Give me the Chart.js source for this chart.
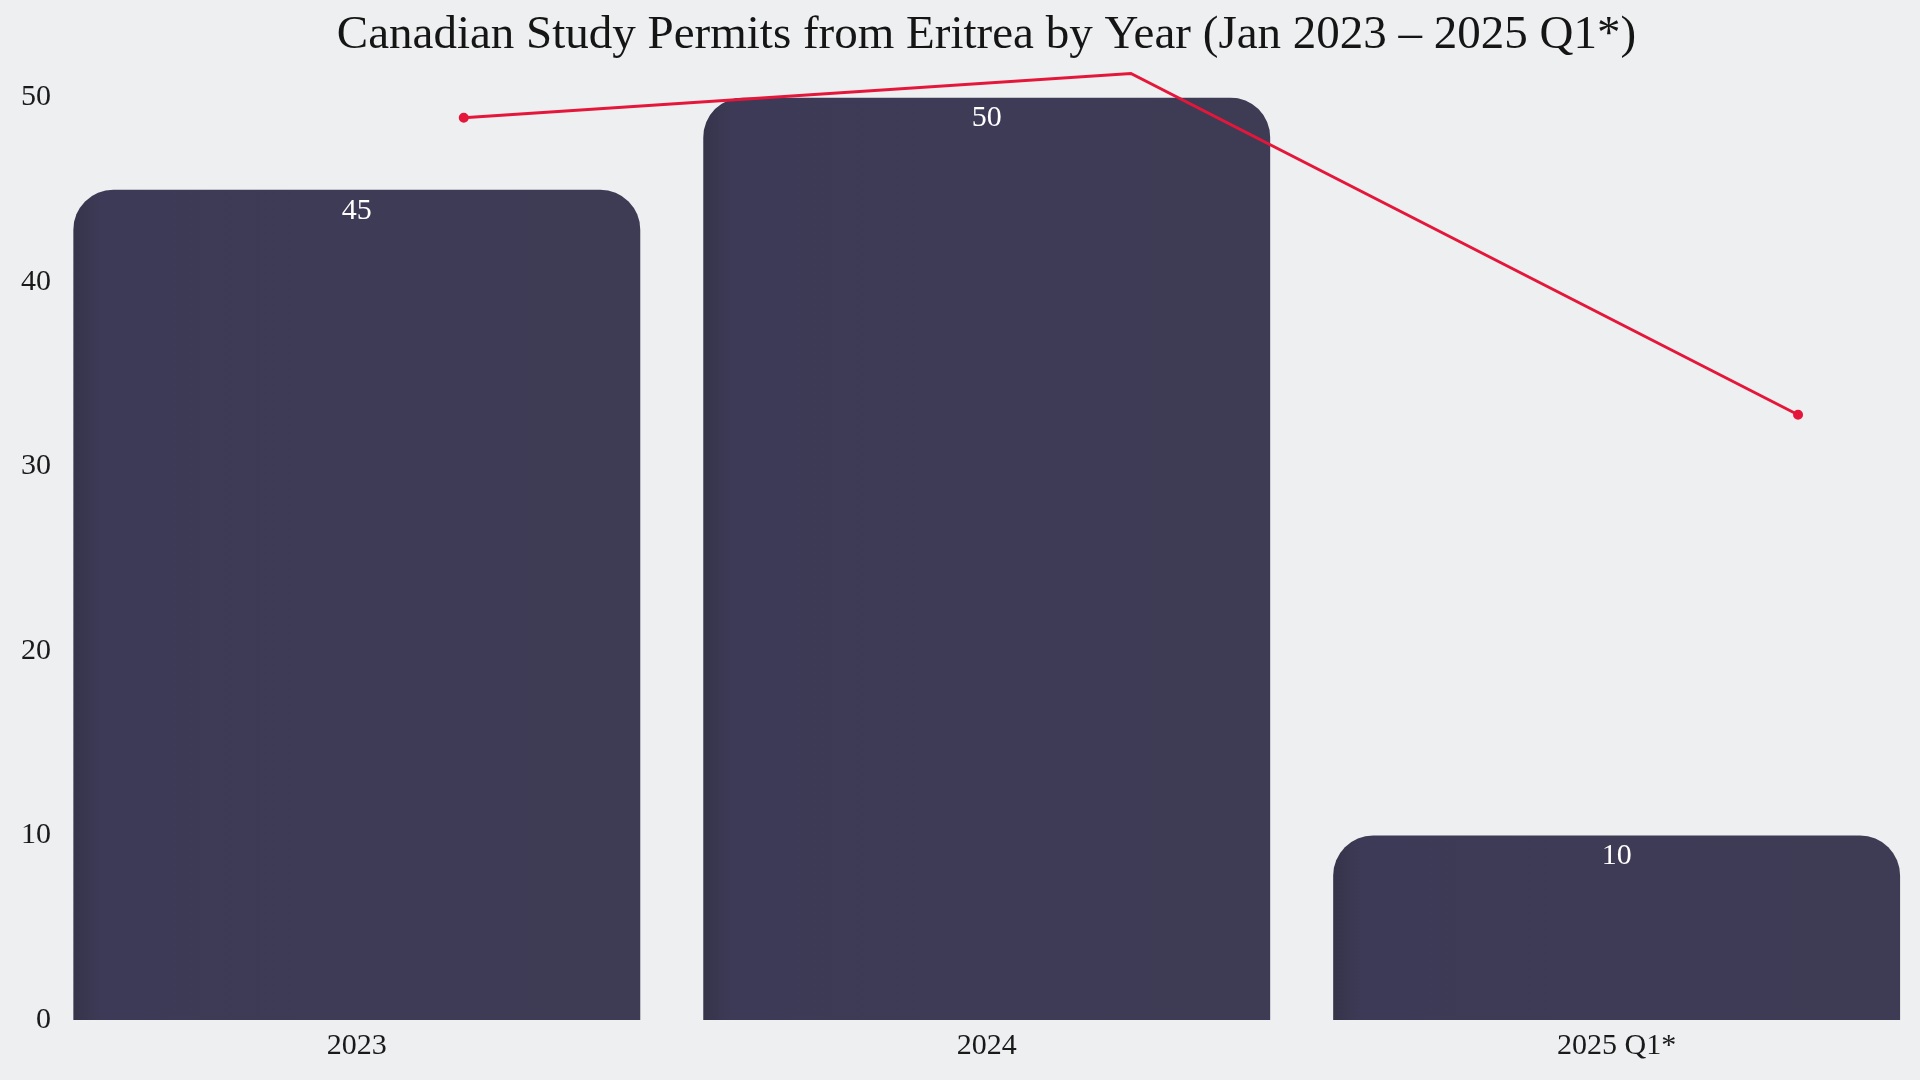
<!DOCTYPE html>
<html>
<head>
<meta charset="utf-8">
<script src="https://cdn.jsdelivr.net/npm/chart.js@4"></script>
<style>
  html, body { margin: 0; padding: 0; background: #edeff0; }
  #wrap { width: 1920px; height: 1080px; }
</style>
</head>
<body>
<div id="wrap"><canvas id="c" width="1920" height="1080"></canvas></div>
<script>
const chartTitle = 'Canadian Study Permits from Eritrea by Year (Jan 2023 \u2013 2025 Q1*)';
const categories = ['2023', '2024', '2025 Q1*'];
const permits = [45, 50, 10];
const trendLine = [48.9, 51.3, 32.8];
const yTicks = [0, 10, 20, 30, 40, 50];

const FONT = '"Liberation Serif", "Times New Roman", serif';
const barColor = '#3e3b56';

const barData = permits.map((v, i) => ({ x: i, y: v }));
const lineData = trendLine.map((v, i) => ({ x: i, y: v }));

const barLabels = {
  id: 'barLabels',
  afterDatasetsDraw(chart) {
    const meta = chart.getDatasetMeta(0);
    const ctx = chart.ctx;
    ctx.save();
    ctx.fillStyle = '#ffffff';
    ctx.font = '30px ' + FONT;
    ctx.textAlign = 'center';
    ctx.textBaseline = 'middle';
    meta.data.forEach((el, i) => {
      ctx.fillText(String(permits[i]), el.x, el.y + 21);
    });
    ctx.restore();
  }
};

new Chart(document.getElementById('c'), {
  type: 'bar',
  data: {
    datasets: [
      {
        type: 'bar',
        data: barData,
        xAxisID: 'x',
        yAxisID: 'y',
        order: 2,
        grouped: false,
        backgroundColor: (c) => {
          const ch = c.chart, sx = ch.scales.x;
          if (!sx || c.type !== 'data' || !c.parsed) return barColor;
          const cx = sx.getPixelForValue(c.parsed.x);
          const half = Math.abs(sx.getPixelForValue(1) - sx.getPixelForValue(0)) * 0.45;
          if (!isFinite(cx) || !isFinite(half) || half <= 0) return barColor;
          const g = ch.ctx.createLinearGradient(cx - half, 0, cx + half, 0);
          g.addColorStop(0, '#36344a');
          g.addColorStop(0.05, '#3d3a57');
          g.addColorStop(0.5, '#3e3b56');
          g.addColorStop(1, '#3e3b55');
          return g;
        },
        borderWidth: 0,
        borderRadius: { topLeft: 40, topRight: 40, bottomLeft: 0, bottomRight: 0 },
        borderSkipped: false,
        categoryPercentage: 1,
        barPercentage: 0.9
      },
      {
        type: 'line',
        data: lineData,
        xAxisID: 'x2',
        yAxisID: 'y',
        order: 1,
        borderColor: '#e4173b',
        backgroundColor: '#e4173b',
        borderWidth: 3,
        pointRadius: 3.5,
        pointHoverRadius: 4,
        tension: 0,
        clip: false
      }
    ]
  },
  options: {
    responsive: false,
    animation: false,
    layout: { padding: { left: 0, right: 6, top: 0, bottom: 8 } },
    plugins: {
      legend: { display: false },
      tooltip: { enabled: false },
      title: {
        display: true,
        text: chartTitle,
        fullSize: false,
        color: '#151515',
        font: { family: FONT, size: 47, weight: 'normal', lineHeight: 1.2 },
        padding: { top: 7, bottom: 34 }
      }
    },
    scales: {
      x: {
        type: 'linear',
        position: 'bottom',
        offset: false,
        min: -0.4712,
        max: 2.4705,
        grid: { display: false, drawTicks: false, offset: false },
        border: { display: false },
        afterBuildTicks: (s) => { s.ticks = categories.map((_, i) => ({ value: i })); },
        ticks: {
          padding: 8,
          color: '#1a1a1a',
          font: { family: FONT, size: 30, lineHeight: 1.2 },
          callback: (v) => categories[v] ?? ''
        }
      },
      x2: {
        type: 'linear',
        display: false,
        offset: false,
        min: -0.6052,
        max: 2.1723
      },
      y: {
        min: 0,
        max: 50,
        afterFit: (s) => { s.width = 60; },
        afterBuildTicks: (s) => { s.ticks = yTicks.map(v => ({ value: v })); },
        grid: { display: false, drawTicks: false },
        border: { display: false },
        ticks: {
          padding: 9,
          color: '#1a1a1a',
          font: { family: FONT, size: 30, lineHeight: 1.2 }
        }
      }
    }
  },
  plugins: [barLabels]
});
</script>
</body>
</html>
